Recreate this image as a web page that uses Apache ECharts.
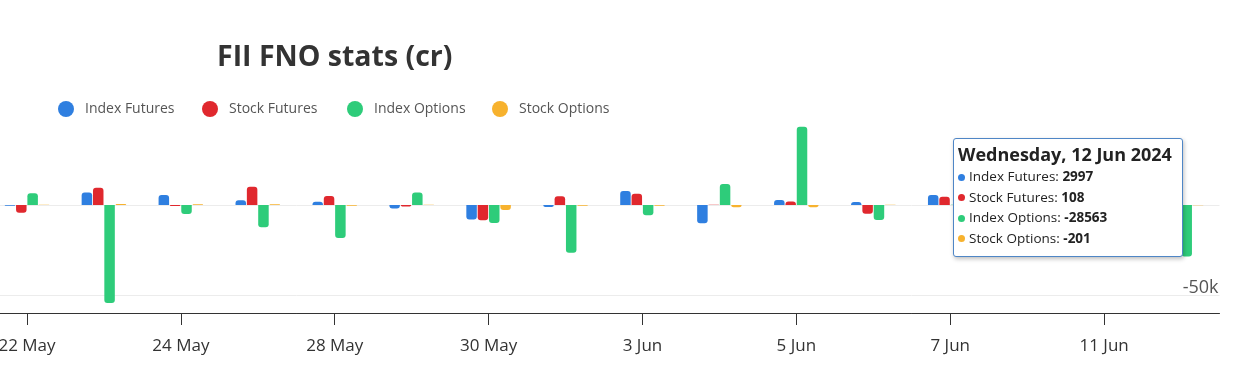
<!DOCTYPE html>
<html>
<head>
<meta charset="utf-8">
<script src="https://cdn.jsdelivr.net/npm/echarts@6/dist/echarts.min.js"></script>
<style>
  html, body { margin: 0; padding: 0; background: #fff; overflow: hidden; width: 1233px; height: 370px; }
  #chart { position: absolute; left: -12px; top: 0; width: 1245px; height: 370px; }
</style>
</head>
<body>
<div id="chart"></div>
<script>
// ---- data ----
const categories = ['2024-05-22','2024-05-23','2024-05-24','2024-05-27','2024-05-28','2024-05-29','2024-05-30','2024-05-31',
                    '2024-06-03','2024-06-04','2024-06-05','2024-06-06','2024-06-07','2024-06-10','2024-06-11','2024-06-12'];
const indexFutures = [-400, 7000, 5600, 2600, 1800, -1900, -8000, -1100, 7800, -10200, 2800, 1700, 5600, 1200, -600, 2997];
const stockFutures = [-4300, 9600, -500, 10200, 5000, -800, -8500, 4800, 6300, 100, 1900, -4800, 4600, -1500, 2000, 108];
const indexOptions = [6500, -54500, -5000, -12400, -18300, 7000, -10000, -26500, -5700, 11700, 43500, -8300, 200, 9000, -12000, -28563];
const stockOptions = [100, 500, 400, 400, -400, 100, -2800, -400, -400, -1300, -1200, 100, -300, 200, -200, -201];
const seriesNames = ['Index Futures', 'Stock Futures', 'Index Options', 'Stock Options'];
const yLabelValues = [-50000];
const yGridValues = [-50000, 0];
const titleText = 'FII FNO stats (cr)';

// ---- styling ----
const OFFSET = 12; // chart canvas starts 12px left of the visible window
const colors = ['#2f7fe0', '#e0282e', '#2ecc7a', '#f7b22e'];
const months = ['Jan','Feb','Mar','Apr','May','Jun','Jul','Aug','Sep','Oct','Nov','Dec'];
const weekdays = ['Sunday','Monday','Tuesday','Wednesday','Thursday','Friday','Saturday'];
const FONT = '"Open Sans", sans-serif';

function shortDate(iso) {
  const d = new Date(iso + 'T00:00:00');
  return d.getDate() + ' ' + months[d.getMonth()];
}
function fullDate(iso) {
  const d = new Date(iso + 'T00:00:00');
  return weekdays[d.getDay()] + ', ' + d.getDate() + ' ' + months[d.getMonth()] + ' ' + d.getFullYear();
}
function barData(arr) {
  return arr.map(v => ({
    value: v,
    itemStyle: { borderRadius: v < 0 ? [0, 0, 3, 3] : [3, 3, 0, 0] }
  }));
}

const yMin = -60000, yMax = 50000, yInterval = 10000;
const splitColors = [];
for (let v = yMin; v <= yMax; v += yInterval) {
  splitColors.push(yGridValues.includes(v) ? '#ececec' : 'rgba(0,0,0,0)');
}

const allSeries = [indexFutures, stockFutures, indexOptions, stockOptions];
const legendLefts = [58, 202, 347, 492];

const chart = echarts.init(document.getElementById('chart'), null, { renderer: 'canvas' });
chart.setOption({
  animation: false,
  color: colors,
  title: {
    text: titleText,
    left: 217 + OFFSET, top: 43,
    padding: 0,
    textStyle: { fontFamily: FONT, fontSize: 28.5, fontWeight: 'bold', color: '#333' }
  },
  legend: seriesNames.map((n, i) => ({
    data: [n],
    left: legendLefts[i] + OFFSET, top: 101,
    padding: 0,
    icon: 'circle', itemWidth: 16, itemHeight: 16, itemGap: 0,
    textStyle: { fontFamily: FONT, fontSize: 14, color: '#555', padding: [2, 0, 0, 6] },
    selectedMode: false
  })),
  grid: { left: OFFSET - 11.5, right: 13.5, top: 115, bottom: 57, containLabel: false },
  tooltip: {
    trigger: 'axis',
    axisPointer: { type: 'none' },
    alwaysShowContent: true,
    transitionDuration: 0,
    position: [953 + OFFSET, 138],
    backgroundColor: '#fff',
    borderColor: '#4f86c6',
    borderWidth: 1.5,
    padding: [4, 6, 8, 4],
    extraCssText: 'border-radius:3px; box-shadow: 1px 2px 4px rgba(0,0,0,0.25); width:218px;',
    formatter: function (params) {
      let html = '<div style="font-family:' + FONT.replace(/"/g, "'") + ';color:#222;">';
      html += '<div style="font-size:18px;font-weight:bold;line-height:23px;white-space:nowrap;">' + fullDate(params[0].axisValue) + '</div>';
      params.forEach(p => {
        html += '<div style="font-size:13.5px;line-height:20.5px;">' +
          '<span style="display:inline-block;width:7px;height:7px;border-radius:50%;background:' + p.color + ';margin-right:4px;vertical-align:middle;"></span>' +
          p.seriesName + ': <b>' + p.value + '</b></div>';
      });
      html += '</div>';
      return html;
    }
  },
  xAxis: {
    type: 'category',
    data: categories,
    boundaryGap: true,
    axisLine: { show: true, onZero: false, lineStyle: { color: '#333', width: 1 } },
    axisTick: { show: true, alignWithLabel: true, interval: 1, length: 12, lineStyle: { color: '#333' } },
    axisLabel: {
      interval: 1, margin: 25,
      fontFamily: FONT, fontSize: 17, color: '#333',
      formatter: v => shortDate(v)
    },
    splitLine: { show: false }
  },
  yAxis: {
    type: 'value',
    position: 'right',
    min: yMin, max: yMax, interval: yInterval,
    axisLine: { show: false },
    axisTick: { show: false },
    axisLabel: {
      inside: true, margin: 1,
      verticalAlign: 'bottom',
      lineHeight: 15,
      fontFamily: FONT, fontSize: 18, color: '#555',
      formatter: v => yLabelValues.includes(v) ? (v / 1000) + 'k' : ''
    },
    splitLine: { show: true, lineStyle: { color: splitColors, width: 1 } }
  },
  series: allSeries.map((arr, i) => ({
    name: seriesNames[i],
    type: 'bar',
    data: barData(arr),
    barWidth: 10.5,
    barGap: '8%',
    itemStyle: { color: colors[i] },
    emphasis: { disabled: true }
  }))
});

setTimeout(() => {
  chart.dispatchAction({ type: 'showTip', seriesIndex: 0, dataIndex: categories.length - 1 });
}, 50);
</script>
</body>
</html>
